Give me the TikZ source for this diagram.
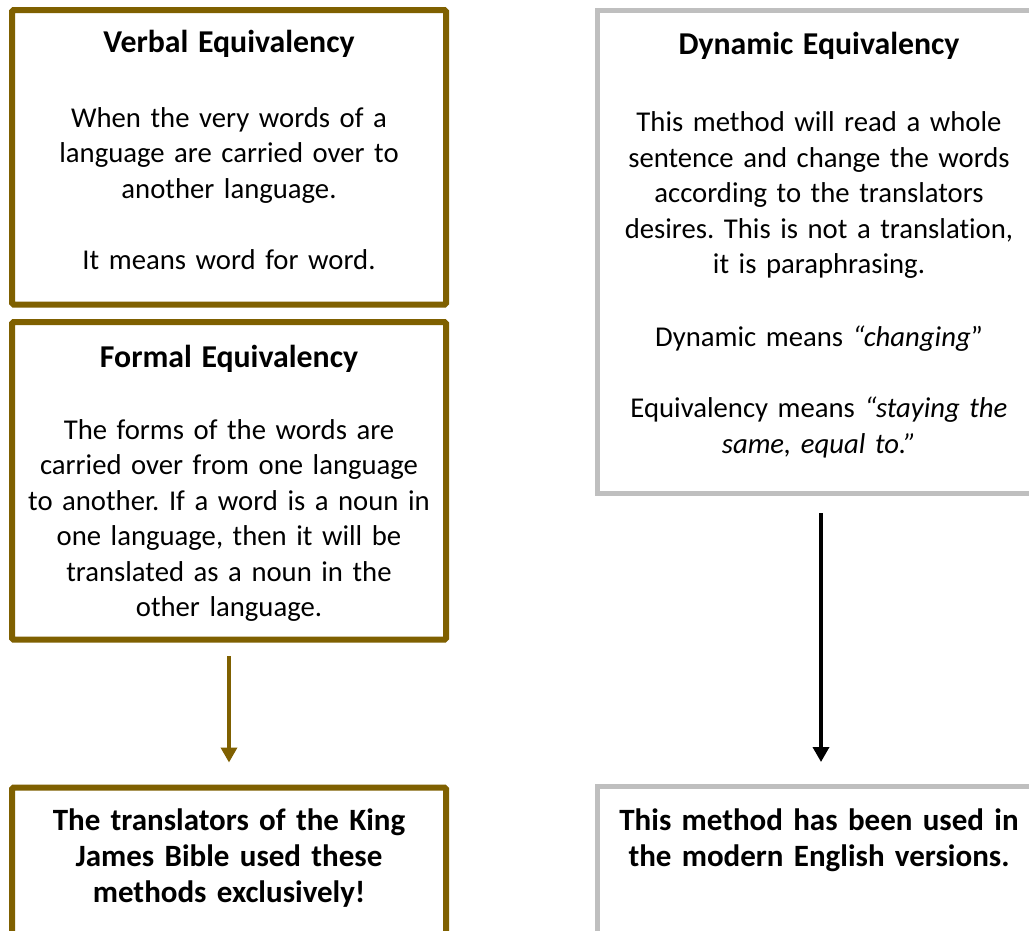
\documentclass[tikz,border=0pt]{standalone}
\usepackage{fontspec}
\setmainfont{Carlito}[Ligatures=NoCommon]
\usetikzlibrary{positioning,arrows.meta}
\definecolor{kjvbrown}{HTML}{7F6000}
\definecolor{boxgray}{HTML}{BFBFBF}
\frenchspacing

\begin{document}
\begin{tikzpicture}[x=1pt,y=-1pt,
		brownframe/.style={draw=kjvbrown, line width=6pt, rounded corners=1.5pt, minimum width=434pt, inner sep=0pt},
		grayframe/.style={draw=boxgray, line width=5pt, minimum width=443pt, inner sep=0pt},
		boxtext/.style={anchor=base, align=center, text width=430pt, inner sep=0pt, font=\fontsize{28.7}{35.5}\selectfont},
		boldtext/.style={boxtext, font=\fontsize{31}{36.2}\selectfont\bfseries}]
		\path[use as bounding box, clip] (0,0) rectangle (1029,930);
		\fill[white] (0,0) rectangle (1029,930);
		% left column
		\node[brownframe, minimum height=294.5pt] (verbal) at (229,157.25) {};
		\node[brownframe, minimum height=317.5pt] (formal) at (229,480.75) {};
		\node[brownframe, minimum height=212.5pt] (kjv) at (229,893.75) {};
		\node[boxtext] (verbaltext) at ([yshift=-45pt]verbal.north) {{\fontsize{31.8}{35.5}\selectfont\bfseries Verbal Equivalency}\\[39.5pt]
			When the very words of a\\ language are carried over to\\ another language.\\[35.5pt]
			It means word for word.};
		\node[boxtext] (formaltext) at ([yshift=-48pt]formal.north) {{\fontsize{31.8}{35.5}\selectfont\bfseries Formal Equivalency}\\[36.5pt]
			The forms of the words are\\ carried over from one language\\ to another. If a word is a noun in\\
			one language, then it will be\\ translated as a noun in the\\ other language.};
		\node[boldtext] (kjvtext) at ([yshift=-46pt]kjv.north) {The translators of the King\\ James Bible used these\\ methods exclusively!};
		% right column
		\node[grayframe, minimum height=482.5pt] (dynamic) at (819,251.75) {};
		\node[grayframe, minimum height=213.5pt] (modern) at (819,893.25) {};
		\node[boxtext] (dynamictext) at ([yshift=-46.5pt]dynamic.north) {{\fontsize{31.8}{35.5}\selectfont\bfseries Dynamic Equivalency}\\[41.5pt]
			This method will read a whole\\ sentence and change the words\\ according to the translators\\
			desires. This is not a translation,\\ it is paraphrasing.\\[37pt]
			Dynamic means \textit{“changing}”\\[36pt]
			Equivalency means \textit{“staying the}\\ \textit{same, equal to.”}};
		\node[boldtext] (moderntext) at ([yshift=-46.5pt]modern.north) {This method has been used in\\ the modern English versions.};
		% arrows
		\draw[kjvbrown, line width=3.5pt, -{Triangle[width=16pt,length=15pt]}, shorten <=13.5pt, shorten >=22pt] (formal) -- (kjv);
		\draw[black, line width=3.5pt, -{Triangle[width=16pt,length=15pt]}, shorten <=17.5pt, shorten >=22pt] ([xshift=2pt]dynamic.south) -- ([xshift=2pt]modern.north);
	\end{tikzpicture}
\end{document}
